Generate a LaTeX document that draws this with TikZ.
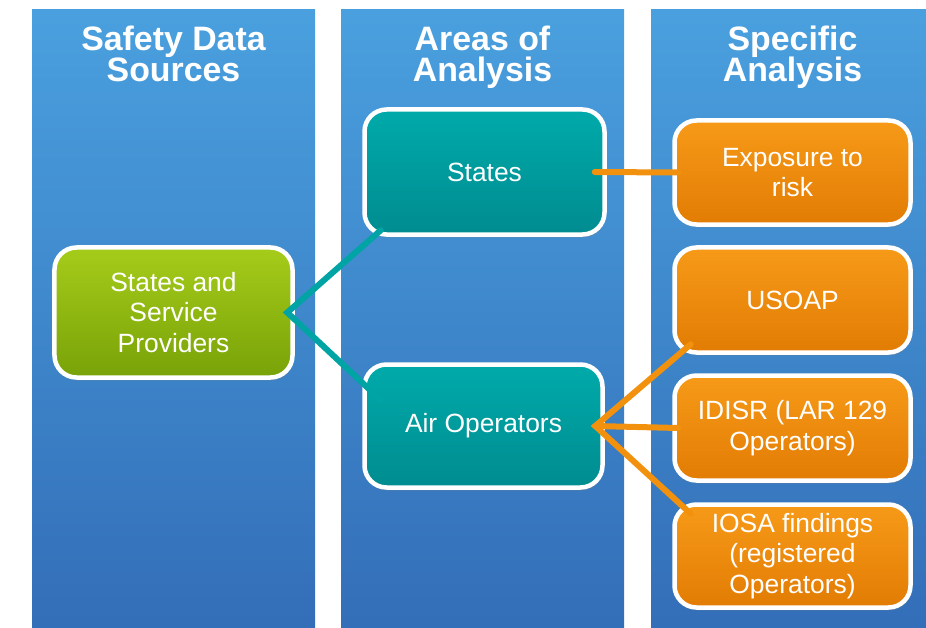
\documentclass[tikz,border=0pt]{standalone}
\usepackage{fontspec}
\setmainfont{Liberation Sans}
\usetikzlibrary{shadows}
\definecolor{colTop}{RGB}{74,160,222}
\definecolor{colBot}{RGB}{51,110,184}
\definecolor{greenTop}{RGB}{166,204,26}
\definecolor{greenBot}{RGB}{120,162,8}
\definecolor{tealTop}{RGB}{0,170,170}
\definecolor{tealBot}{RGB}{0,140,144}
\definecolor{orangeTop}{RGB}{247,154,24}
\definecolor{orangeBot}{RGB}{226,124,4}
\definecolor{tealLink}{RGB}{0,164,164}
\definecolor{orangeLink}{RGB}{242,145,14}
\begin{document}
\begin{tikzpicture}[x=1bp, y=-1bp,
    column/.style={top color=colTop, bottom color=colBot, draw=none},
    title/.style={text=white, align=center, font=\fontsize{34}{32}\selectfont\bfseries},
    link/.style={line width=6bp, line cap=round}]
\tikzset{box/.style={draw=white, line width=4.5bp, rounded corners=22bp, inner sep=0pt,
                     align=center, text=white, font=\fontsize{26.5}{30.5}\selectfont,
                     drop shadow={shadow xshift=1bp, shadow yshift=-3bp, opacity=.3}},
         source/.style={box, top color=greenTop, bottom color=greenBot},
         area/.style={box, top color=tealTop, bottom color=tealBot},
         specific/.style={box, top color=orangeTop, bottom color=orangeBot,
                          minimum width=236bp, minimum height=105bp}}
\useasboundingbox (0,0) rectangle (926,628);
\foreach \x in {32,341,651}
    \shade[column] (\x,10) rectangle ++(283,618);
\node[title, anchor=base] (srcTitle) at (173.5,82) {Safety Data\\Sources};
\node[title, anchor=base] (areaTitle) at (482.5,82) {Areas of\\Analysis};
\node[title, anchor=base] (specTitle) at (792.5,82) {Specific\\Analysis};
% sources
\node[source, minimum width=238bp, minimum height=130bp] (ssp) at (173.5,312.5) {States and\\Service\\Providers};
% areas
\node[area, minimum width=240bp, minimum height=125bp] (states) at (484.5,172) {States};
\node[area, minimum width=238bp, minimum height=123bp] (air) at (483.5,426) {Air Operators};
% specific
\node[specific, minimum height=104bp] (exposure) at (792.5,172.5) {Exposure to\\risk};
\node[specific] (usoap) at (792.5,300) {USOAP};
\node[specific] (idisr) at (792.5,428) {IDISR (LAR 129\\Operators)};
\node[specific, minimum height=103bp] (iosa) at (792.5,556) {IOSA findings\\(registered\\Operators)};
% links
\coordinate (sspHub) at ([xshift=-7.5bp]ssp.east);
\coordinate (airHub) at ([xshift=-9.5bp]air.east);
\draw[link, tealLink] ([xshift=18.5bp, yshift=6.5bp]states.south west) -- (sspHub)
    -- ([xshift=18.5bp, yshift=26bp]air.west);
\draw[link, orangeLink] ([xshift=-12bp]states.east) -- ([xshift=6bp]exposure.west);
\draw[link, orangeLink] ([xshift=18.5bp, yshift=10.5bp]usoap.south west) -- (airHub)
    -- ([xshift=18.5bp, yshift=-11.5bp]iosa.north west);
\draw[link, orangeLink] (airHub) -- ([xshift=6bp]idisr.west);
\end{tikzpicture}
\end{document}
